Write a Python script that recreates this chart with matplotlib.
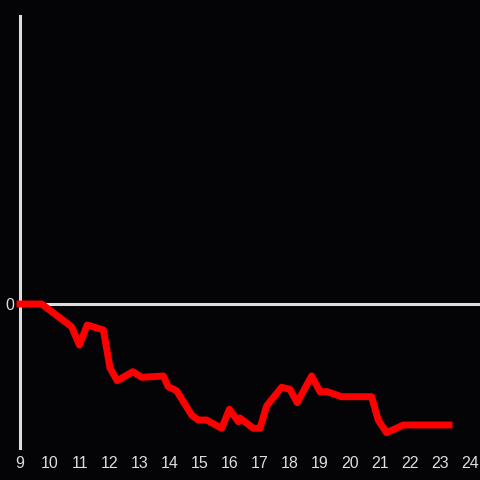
import matplotlib
matplotlib.use("Agg")
import matplotlib.pyplot as plt

plt.rcParams["font.family"] = ["Liberation Sans", "DejaVu Sans"]

# time of day (hours) and cumulative change
hours = [9.0, 9.72, 10.72, 10.98, 11.24, 11.78, 12.0, 12.24, 12.76, 13.06,
         13.78, 13.94, 14.22, 14.72, 14.94, 15.22, 15.72, 15.98, 16.28, 16.33,
         16.78, 17.0, 17.22, 17.72, 18.0, 18.24, 18.72, 19.0, 19.24, 19.72,
         20.72, 20.94, 21.22, 21.78, 23.3]
values = [0, 0, -2.27, -4.1, -2.1, -2.6, -6.4, -7.67, -6.77, -7.33,
          -7.2, -8.27, -8.67, -11.1, -11.6, -11.6, -12.43, -10.53, -11.77, -11.4,
          -12.43, -12.43, -10.2, -8.33, -8.53, -9.87, -7.2, -8.77, -8.77, -9.27,
          -9.27, -11.6, -12.87, -12.1, -12.1]
xticks = list(range(9, 25))

bg = "#040306"
fg = "#dddddd"

fig = plt.figure(figsize=(4.8, 4.8), dpi=100, facecolor=bg)
ax = fig.add_axes([20/480, 32/480, 460/480, 432/480], facecolor=bg)

ax.axhline(0, color=fg, lw=2.2, zorder=1)
ax.plot(hours, values, color="#ff0000", lw=5, solid_joinstyle="round",
        zorder=3, clip_on=False)

ax.set_xlim(9, 24.333)
ax.set_ylim(-14.4, 28.8)
ax.set_xticks(xticks)
ax.set_yticks([0])
ax.tick_params(colors=fg, labelsize=11.5, length=0, pad=4)
ax.tick_params(axis="x", pad=6)
for s in ["top", "right", "bottom"]:
    ax.spines[s].set_visible(False)
ax.spines["left"].set_color(fg)
ax.spines["left"].set_linewidth(2.2)

fig.savefig("out.png", dpi=100, facecolor=bg)
